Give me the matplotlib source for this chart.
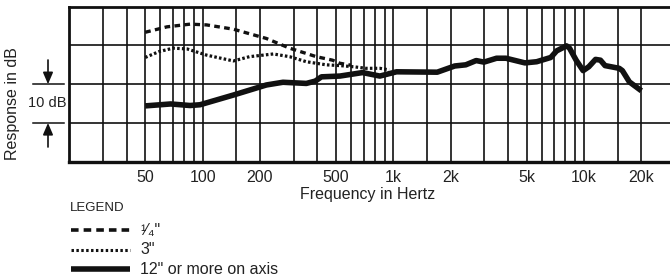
import matplotlib
matplotlib.use("Agg")
import matplotlib.pyplot as plt
from matplotlib.lines import Line2D
from matplotlib.transforms import blended_transform_factory

plt.rcParams['font.family'] = ['Liberation Sans', 'DejaVu Sans']

# ---- data ----
freq_quarter = [50, 65, 86, 105, 145, 216, 286, 395, 480, 525, 600]
db_quarter = [33.4, 34.8, 35.5, 35.3, 34.2, 31.8, 29.3, 27.1, 26.2, 25.4, 24.9]

freq_three = [50, 59, 70, 83, 105, 145, 176, 235, 286, 350, 445, 525, 620, 720, 850, 950]
db_three = [26.9, 28.4, 29.3, 29.1, 27.5, 26.0, 27.1, 27.8, 27.1, 25.8, 25.0, 24.8, 24.5, 24.1, 24.1, 23.7]

freq_axis = [50, 68, 86, 97, 145, 216, 264, 350, 390, 420, 525, 690, 850, 1040, 1700,
             2100, 2400, 2720, 2990, 3480, 3900, 4900, 5650, 6700, 7190, 8100, 8400,
             9100, 9900, 10600, 11500, 12200, 12900, 15300, 15900, 17300, 20000]
db_axis = [14.4, 14.9, 14.5, 14.7, 17.2, 19.8, 20.5, 20.2, 20.8, 21.9, 22.1, 23.0, 22.1, 23.2, 23.1,
           24.7, 25.0, 26.1, 25.7, 26.7, 26.7, 25.5, 25.8, 26.9, 28.6, 29.9, 29.3,
           26.2, 23.5, 24.5, 26.4, 26.2, 24.8, 24.1, 23.5, 20.6, 18.3]

tick_freqs = [50, 100, 200, 500, 1000, 2000, 5000, 10000, 20000]
tick_labels = ["50", "100", "200", "500", "1k", "2k", "5k", "10k", "20k"]
grid_freqs = [30, 40, 60, 70, 80, 90, 150, 300, 400, 600, 700, 800, 900,
              1500, 3000, 4000, 6000, 7000, 8000, 9000, 15000]
grid_db = [10, 20, 30]

legend_labels = ["\u00b9\u2044\u2084\"", "3\"", "12\" or more on axis"]

# ---- figure ----
W, H = 670, 278
fig = plt.figure(figsize=(W / 100, H / 100), dpi=100)
ink = "#111111"


def fx(x):
    return x / W


def fy(y):
    return 1 - y / H


ax_l, ax_r, ax_t, ax_b = 69.3, 670.0, 6.7, 161.7
ax = fig.add_axes([fx(ax_l), fy(ax_b), fx(ax_r - ax_l), (ax_b - ax_t) / H])
ax.set_xscale("log")
ax.set_xlim(20, 28260)
ax.set_ylim(0, 40)

ax.set_xticks(tick_freqs)
ax.set_xticklabels(tick_labels, fontsize=11.5, color="#222222")
ax.set_xticks(grid_freqs, minor=True)
ax.xaxis.set_minor_formatter(matplotlib.ticker.NullFormatter())
ax.set_yticks(grid_db)
ax.set_yticklabels([])
ax.tick_params(axis="both", which="both", length=0, pad=6)
ax.grid(True, which="both", axis="both", color=ink, linewidth=1.2)
ax.set_axisbelow(True)

for s in ["top", "left", "bottom"]:
    ax.spines[s].set_color(ink)
ax.spines["top"].set_linewidth(2.0)
ax.spines["left"].set_linewidth(2.0)
ax.spines["bottom"].set_linewidth(2.4)
ax.spines["right"].set_visible(False)

ax.plot(freq_quarter, db_quarter, color=ink, linewidth=2.4, dashes=(1.7, 1.3),
        dash_capstyle="butt", solid_joinstyle="round")
ax.plot(freq_three, db_three, color=ink, linewidth=2.3, dashes=(0.8, 0.7),
        dash_capstyle="butt")
ax.plot(freq_axis, db_axis, color=ink, linewidth=4.0, solid_capstyle="butt",
        solid_joinstyle="round")

ax.set_xlabel("Frequency in Hertz", fontsize=11.5, color="#222222", labelpad=2)
ax.xaxis.set_label_coords((368 - ax_l) / (ax_r - ax_l), -0.165)

# y label and 10 dB marker
fig.text(fx(13), fy(104), "Response in dB", rotation=90, ha="center", va="center",
         fontsize=11.5, color="#222222")
fig.text(fx(66), fy(103), "10 dB", ha="right", va="center", fontsize=10.5, color="#222222")
bt = blended_transform_factory(fig.transFigure, ax.transData)
for d in [20, 10]:
    fig.add_artist(Line2D([fx(33), fx(64)], [d, d], transform=bt, color=ink,
                          linewidth=1.1, clip_on=False))
ax.annotate("", xy=(fx(48), 20), xycoords=bt, xytext=(fx(48), fy(60)),
            textcoords="figure fraction",
            arrowprops=dict(arrowstyle="-|>,head_length=0.7,head_width=0.3",
                            color=ink, lw=1.2, shrinkA=0, shrinkB=0),
            annotation_clip=False)
ax.annotate("", xy=(fx(48), 10), xycoords=bt, xytext=(fx(48), fy(147)),
            textcoords="figure fraction",
            arrowprops=dict(arrowstyle="-|>,head_length=0.7,head_width=0.3",
                            color=ink, lw=1.2, shrinkA=0, shrinkB=0),
            annotation_clip=False)

# legend
fig.text(fx(70), fy(208), "LEGEND", ha="left", va="center", fontsize=9.5, color="#222222")
rows = [230, 250, 269]
styles = [dict(linewidth=2.6, dashes=(2.1, 1.4), dash_capstyle="butt"),
          dict(linewidth=2.2, dashes=(0.8, 0.8), dash_capstyle="butt"),
          dict(linewidth=4.0, solid_capstyle="butt")]
for yy, st, lab in zip(rows, styles, legend_labels):
    fig.add_artist(Line2D([fx(71), fx(130)], [fy(yy), fy(yy)], color=ink, **st))
    fig.text(fx(140), fy(yy), lab, ha="left", va="center", fontsize=11.5, color="#222222")

fig.savefig("out.png", dpi=100)
